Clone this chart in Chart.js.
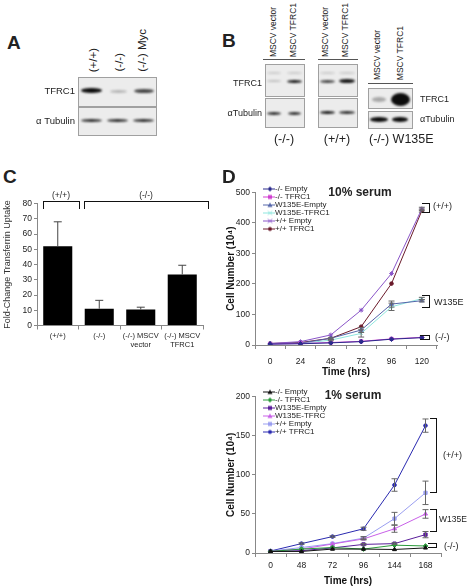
<!DOCTYPE html>
<html>
<head>
<meta charset="utf-8">
<script src="https://cdn.jsdelivr.net/npm/chart.js@4.4.0/dist/chart.umd.min.js"></script>
<style>
  body { margin:0; width:468px; height:588px; position:relative; overflow:hidden; background:#fff;
         font-family:"Liberation Sans", Arial, sans-serif; color:#222; }
  .lbl { position:absolute; white-space:nowrap; line-height:1; }
  .vt { position:absolute; white-space:nowrap; line-height:1; writing-mode:vertical-rl; transform:rotate(180deg); }
  .box { position:absolute; background:#ececec; border:1px solid #a0a0a0; box-sizing:border-box; }
  .band { position:absolute; border-radius:50%; }
  .rule { position:absolute; height:0; border-top:1.5px solid #555; }
  .brk { position:absolute; border:1.3px solid #111; box-sizing:border-box; }
  canvas { position:absolute; }
</style>
</head>
<body>
<canvas id="cUptake" width="215" height="165" style="left:0;top:195px"></canvas>
<canvas id="d10" width="246" height="195" style="left:222px;top:185px"></canvas>
<canvas id="d1" width="246" height="200" style="left:222px;top:388px"></canvas>

<script>
// ---- panel C: transferrin uptake ----
const uptakeLabels = ["(+/+)", "(-/-)", ["(-/-) MSCV", "vector"], ["(-/-) MSCV", "TFRC1"]];
const uptakeValues = [52, 11, 10.5, 33.5];
const uptakeErrors = [16, 5.5, 1.5, 6];

// ---- panel D: 10% serum ----
const hours10 = ["0", "24", "48", "72", "96", "120"];
const names10 = ["-/- Empty", "-/- TFRC1", "W135E-Empty", "W135E-TFRC1", "+/+ Empty", "+/+ TFRC1"];
const ko10Empty = [3, 4, 7, 11, 19, 24];
const ko10Tfrc1 = [3, 5, 8, 12, 20, 25];
const w135e10Empty = [4, 6, 22, 49, 134, 145];
const w135e10Tfrc1 = [4, 5, 16, 38, 125, 152];
const wt10Empty = [5, 11, 33, 114, 234, 446];
const wt10Tfrc1 = [5, 8, 22, 60, 201, 440];
const w135e10EmptyErr = [0, 0, 2, 8, 10, 4];
const w135e10Tfrc1Err = [0, 0, 2, 12, 12, 4];
const wt10Err = [0, 0, 0, 0, 0, 5];

// ---- panel D: 1% serum ----
const hours1 = ["0", "48", "72", "96", "144", "168"];
const names1 = ["-/- Empty", "-/- TFRC1", "W135E-Empty", "W135E-TFRC", "+/+ Empty", "+/+ TFRC1"];
const ko1Empty = [2, 2, 5, 5, 4.5, 6.5];
const ko1Tfrc1 = [2, 5, 7, 5, 10, 9];
const w135e1Empty = [2, 3, 6.5, 11, 12, 23.5];
const w135e1Tfrc = [2, 5, 11.5, 18, 31, 50];
const wt1Empty = [2.5, 7, 12, 19, 44, 77];
const wt1Tfrc1 = [2.5, 12, 21, 31, 87, 163];
const w135e1EmptyErr = [0, 0, 0, 1, 1, 4];
const w135e1TfrcErr = [0, 0, 0, 1, 4.5, 5.5];
const wt1EmptyErr = [0, 0, 0, 2, 8, 15];
const wt1Tfrc1Err = [0, 1, 1, 2, 8, 8.5];

Chart.defaults.font.family = '"Liberation Sans", Arial, sans-serif';
Chart.defaults.color = '#222';

// small helpers for the blot / annotation parts
function put(html, x, y, size, o = {}) {
  const d = document.createElement('div');
  d.className = 'lbl';
  d.innerHTML = html;
  d.style.left = x + 'px';
  d.style.top = y + 'px';
  d.style.fontSize = size + 'px';
  if (o.bold) d.style.fontWeight = 'bold';
  const tx = o.align === 'right' ? '-100%' : o.align === 'center' ? '-50%' : '0';
  d.style.transform = 'translate(' + tx + ',-50%)';
  document.body.appendChild(d);
}
function vput(text, cx, bottom, size) {
  const d = document.createElement('div');
  d.className = 'vt';
  d.textContent = text;
  d.style.fontSize = size + 'px';
  d.style.left = (cx - size / 2) + 'px';
  d.style.bottom = (588 - bottom) + 'px';
  document.body.appendChild(d);
}
function box(x, y, w, h) {
  const d = document.createElement('div');
  d.className = 'box';
  Object.assign(d.style, { left: x + 'px', top: y + 'px', width: w + 'px', height: h + 'px' });
  document.body.appendChild(d);
}
function band(x1, x2, yc, h, a, blur = 0.8) {
  const d = document.createElement('div');
  d.className = 'band';
  Object.assign(d.style, {
    left: x1 + 'px', top: (yc - h / 2) + 'px', width: (x2 - x1) + 'px', height: h + 'px',
    background: 'rgba(12,12,12,' + a + ')', filter: 'blur(' + blur + 'px)'
  });
  document.body.appendChild(d);
}
function rule(x1, x2, y) {
  const d = document.createElement('div');
  d.className = 'rule';
  Object.assign(d.style, { left: x1 + 'px', top: y + 'px', width: (x2 - x1) + 'px' });
  document.body.appendChild(d);
}
function brk(x, y, w, h, sides) {
  const d = document.createElement('div');
  d.className = 'brk';
  Object.assign(d.style, { left: x + 'px', top: y + 'px', width: w + 'px', height: h + 'px' });
  ['top', 'right', 'bottom', 'left'].forEach(s => { if (!sides.includes(s)) d.style['border' + s[0].toUpperCase() + s.slice(1)] = 'none'; });
  document.body.appendChild(d);
}

// panel letters
put('A', 7, 42, 19, { bold: true });
put('B', 222, 40, 19, { bold: true });
put('C', 3, 176, 19, { bold: true });
put('D', 222, 176, 19, { bold: true });

// panel A blot
vput('(+/+)', 94, 72, 11.5);
vput('(-/-)', 120, 72, 11.5);
vput('(-/-) Myc', 143, 72, 11.5);
box(78, 77, 79, 30);
box(78, 107, 79, 29);
band(81, 102, 90.5, 5, 1);
band(110, 127, 91, 3, 0.25);
band(134, 154, 90.5, 4, 0.75);
band(81, 102, 120.5, 3, 0.85);
band(107, 128, 120.5, 3, 0.85);
band(133, 154, 120.5, 3, 0.85);
put('TFRC1', 75, 90.5, 9.5, { align: 'right' });
put('α Tubulin', 75, 121, 9.5, { align: 'right' });

// panel B blots
vput('MSCV vector', 273, 57, 8.5);
vput('MSCV TFRC1', 293, 57, 8.5);
vput('MSCV vector', 325, 57, 8.5);
vput('MSCV TFRC1', 345, 57, 8.5);
vput('MSCV vector', 377, 80, 8.5);
vput('MSCV TFRC1', 400, 80, 8.5);
rule(263, 305, 59);
rule(318, 358, 59);
rule(368, 413, 83);
box(265, 64, 40, 33);
box(265, 98, 40, 30);
box(318, 64, 40, 33);
box(318, 98, 40, 30);
box(368, 88, 45, 21);
box(368, 111, 45, 18);
band(267, 281, 73, 2, 0.15); band(287, 302, 73, 2, 0.15);
band(267, 281, 81, 2, 0.2);  band(287, 302, 81, 3, 0.95);
band(267, 281, 113, 3, 0.85); band(288, 301, 113, 3, 0.85);
band(320, 335, 73, 2, 0.15); band(339, 355, 73, 2, 0.15);
band(320, 335, 81, 3, 0.75); band(339, 355, 81, 4, 0.95);
band(320, 335, 112.5, 3, 0.95); band(339, 355, 112.5, 3, 0.85);
band(372, 386, 99, 5, 0.3, 1.2);
band(391, 410, 99.5, 13, 1, 1.2);
band(370, 388, 119.5, 5, 1);
band(392, 408, 119.5, 5, 1);
put('TFRC1', 262, 83, 9, { align: 'right' });
put('αTubulin', 262, 113, 9, { align: 'right' });
put('TFRC1', 420, 99, 9);
put('αTubulin', 420, 119, 9);
put('(-/-)', 284, 139, 12.5, { align: 'center' });
put('(+/+)', 337, 139, 12.5, { align: 'center' });
put('(-/-) W135E', 369, 139, 12.5);

// panel C brackets
put('(+/+)', 61, 195, 8.5, { align: 'center' });
put('(-/-)', 146, 195, 8.5, { align: 'center' });
brk(43, 200.5, 37, 8, ['top', 'left', 'right']);
brk(84, 200.5, 125, 8, ['top', 'left', 'right']);

// panel D titles and group brackets
put('10% serum', 360, 192, 12, { bold: true, align: 'center' });
put('1% serum', 353, 395, 12, { bold: true, align: 'center' });
brk(422, 203, 8, 10, ['top', 'right', 'bottom']);
put('(+/+)', 433, 206, 9);
brk(422, 295, 8, 13, ['top', 'right', 'bottom']);
put('W135E', 434, 302, 9);
brk(420, 335, 10, 5, ['top', 'right', 'bottom']);
put('(-/-)', 435, 337, 9);
brk(430, 418, 7, 75, ['top', 'right', 'bottom']);
put('(+/+)', 443, 455, 9);
brk(430, 509, 7, 23, ['top', 'right', 'bottom']);
put('W135E', 439, 519, 8.5);
brk(428, 543, 9, 5, ['top', 'right', 'bottom']);
put('(-/-)', 444, 546, 9);

// error bars drawn through the y scale
const errPlugin = {
  id: 'errbars',
  afterDatasetsDraw(chart) {
    const ctx = chart.ctx, y = chart.scales.y;
    chart.data.datasets.forEach((ds, i) => {
      if (!ds.errors) return;
      chart.getDatasetMeta(i).data.forEach((el, j) => {
        const e = ds.errors[j];
        if (!e) return;
        const v = ds.data[j];
        const top = y.getPixelForValue(v + e);
        const bot = y.getPixelForValue(ds.upOnly ? v : v - e);
        const c = ds.capHalf || 3;
        ctx.save();
        ctx.strokeStyle = ds.errColor || '#666';
        ctx.lineWidth = 1;
        ctx.beginPath();
        ctx.moveTo(el.x, top); ctx.lineTo(el.x, bot);
        ctx.moveTo(el.x - c, top); ctx.lineTo(el.x + c, top);
        if (!ds.upOnly) { ctx.moveTo(el.x - c, bot); ctx.lineTo(el.x + c, bot); }
        ctx.stroke();
        ctx.restore();
      });
    });
  }
};

new Chart(document.getElementById('cUptake'), {
  type: 'bar',
  data: {
    labels: uptakeLabels,
    datasets: [{
      data: uptakeValues, errors: uptakeErrors, upOnly: true, errColor: '#444', capHalf: 4,
      backgroundColor: '#000', borderWidth: 0, barPercentage: 0.7, categoryPercentage: 1
    }]
  },
  options: {
    responsive: false, animation: false, devicePixelRatio: 1,
    layout: { padding: { top: 8.5, right: 12, left: 0, bottom: 0 } },
    plugins: { legend: { display: false }, tooltip: { enabled: false } },
    scales: {
      x: {
        grid: { drawOnChartArea: false, tickLength: 4, color: '#888' },
        border: { color: '#888' },
        ticks: { font: { size: 7.5 }, color: '#222', padding: 2, maxRotation: 0, autoSkip: false },
        afterFit(s) { s.height = 34.5; }
      },
      y: {
        min: 0, max: 80,
        ticks: { stepSize: 10, font: { size: 8.5 }, color: '#222', padding: 2 },
        grid: { drawOnChartArea: false, tickLength: 3, color: '#888' },
        border: { color: '#888' },
        title: { display: true, text: 'Fold-Change Transferrin Uptake', font: { size: 9 }, color: '#333', padding: { top: 2, bottom: 0 } },
        afterFit(s) { s.width = 37; }
      }
    }
  },
  plugins: [errPlugin]
});

// legend icon: short line with the marker
function makeIcon(ds) {
  const c = document.createElement('canvas');
  c.width = 24; c.height = 7;
  const g = c.getContext('2d');
  g.strokeStyle = ds.borderColor; g.fillStyle = ds.borderColor; g.lineWidth = 1;
  g.beginPath(); g.moveTo(12, 3.5); g.lineTo(24, 3.5); g.stroke();
  const x = 19, y = 3.5, r = 2;
  g.beginPath();
  if (ds.pointStyle === 'rect') g.rect(x - r, y - r, 2 * r, 2 * r);
  else if (ds.pointStyle === 'rectRot') { g.moveTo(x, y - r - 0.5); g.lineTo(x + r + 0.5, y); g.lineTo(x, y + r + 0.5); g.lineTo(x - r - 0.5, y); g.closePath(); }
  else if (ds.pointStyle === 'triangle') { g.moveTo(x, y - r - 0.5); g.lineTo(x + r + 0.5, y + r); g.lineTo(x - r - 0.5, y + r); g.closePath(); }
  else g.arc(x, y, r, 0, Math.PI * 2);
  if (ds.pointStyle === 'crossRot' || ds.pointStyle === 'star') {
    g.beginPath(); g.moveTo(x - 2, y - 2); g.lineTo(x + 2, y + 2); g.moveTo(x + 2, y - 2); g.lineTo(x - 2, y + 2); g.stroke();
  } else g.fill();
  return c;
}

function lineSet(label, data, color, style, errors) {
  return {
    label, data, errors, borderColor: color, backgroundColor: color,
    borderWidth: 1, pointStyle: style, pointRadius: style === 'circle' ? 1.8 : 2.3,
    pointBorderWidth: 1, pointBackgroundColor: color, fill: false, tension: 0
  };
}

function lineOptions(ymax, step, top, right, tickPad, titlePad) {
  return {
    responsive: false, animation: false, devicePixelRatio: 1,
    layout: { padding: { top, right, left: 0, bottom: 0 } },
    plugins: {
      tooltip: { enabled: false },
      legend: {
        position: 'chartArea', align: 'start',
        labels: {
          usePointStyle: true, pointStyleWidth: 16, padding: 0, font: { size: 8 }, color: '#222',
          generateLabels(chart) {
            return Chart.defaults.plugins.legend.labels.generateLabels(chart)
              .map((l, i) => Object.assign(l, { pointStyle: makeIcon(chart.data.datasets[i]) }));
          }
        }
      }
    },
    scales: {
      x: {
        offset: true,
        grid: { offset: true, drawOnChartArea: false, tickLength: 4, color: '#888' },
        border: { color: '#888' },
        ticks: { font: { size: 8.5 }, color: '#222', padding: tickPad, maxRotation: 0 },
        title: { display: true, text: 'Time (hrs)', font: { size: 10, weight: 'bold' }, color: '#111', padding: { top: titlePad, bottom: titlePad } },
        afterFit(s) { s.height = 35; }
      },
      y: {
        min: 0, max: ymax,
        ticks: { stepSize: step, font: { size: 8.5 }, color: '#222', padding: 2 },
        grid: { drawOnChartArea: false, tickLength: 3, color: '#888' },
        border: { color: '#888' },
        title: { display: true, text: 'Cell Number (10⁴)', font: { size: 10, weight: 'bold' }, color: '#111', padding: { top: 3, bottom: 0 } },
        afterFit(s) { s.width = 33; }
      }
    }
  };
}

new Chart(document.getElementById('d10'), {
  type: 'line',
  data: {
    labels: hours10,
    datasets: [
      lineSet(names10[0], ko10Empty, '#2b2b8c', 'rectRot'),
      lineSet(names10[1], ko10Tfrc1, '#d040d0', 'rect'),
      lineSet(names10[2], w135e10Empty, '#5566aa', 'triangle', w135e10EmptyErr),
      lineSet(names10[3], w135e10Tfrc1, '#8ee6de', 'crossRot', w135e10Tfrc1Err),
      lineSet(names10[4], wt10Empty, '#8a55c8', 'star', wt10Err),
      lineSet(names10[5], wt10Tfrc1, '#6a1a2a', 'circle', wt10Err)
    ]
  },
  options: lineOptions(500, 100, 7.3, 31, 8, 2),
  plugins: [errPlugin]
});

new Chart(document.getElementById('d1'), {
  type: 'line',
  data: {
    labels: hours1,
    datasets: [
      lineSet(names1[0], ko1Empty, '#111111', 'triangle'),
      lineSet(names1[1], ko1Tfrc1, '#2a9a3a', 'rectRot'),
      lineSet(names1[2], w135e1Empty, '#5a1e9a', 'rect', w135e1EmptyErr),
      lineSet(names1[3], w135e1Tfrc, '#c860e8', 'triangle', w135e1TfrcErr),
      lineSet(names1[4], wt1Empty, '#9a9ef0', 'rect', wt1EmptyErr),
      lineSet(names1[5], wt1Tfrc1, '#2a2ab0', 'circle', wt1Tfrc1Err)
    ]
  },
  options: lineOptions(200, 50, 8.7, 27, 4, 1),
  plugins: [errPlugin]
});
</script>
</body>
</html>
